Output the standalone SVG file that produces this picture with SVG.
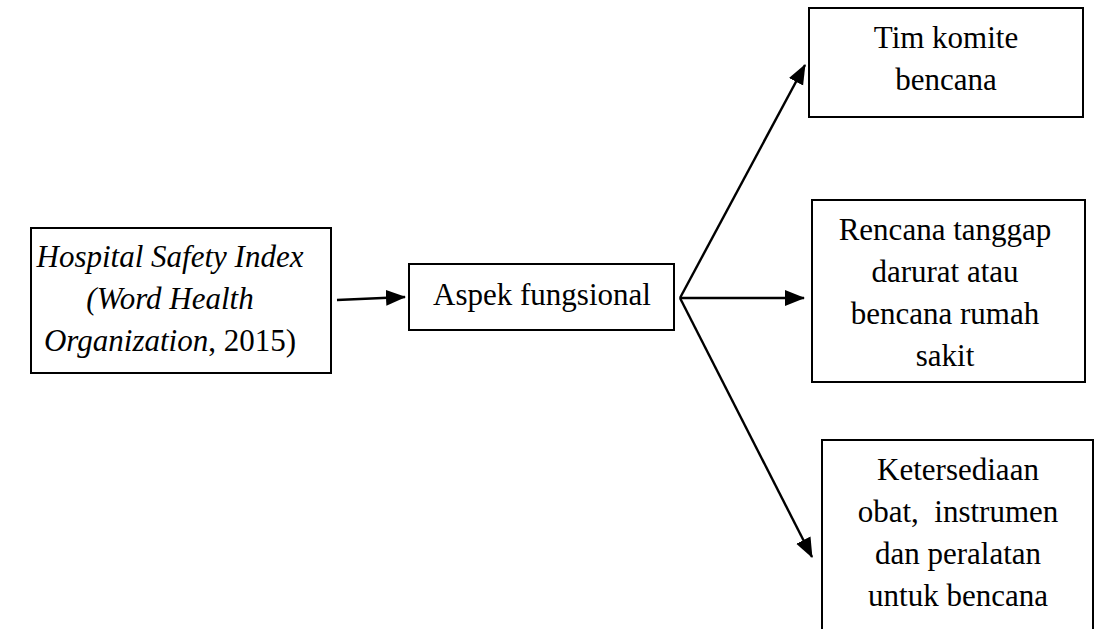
<svg xmlns="http://www.w3.org/2000/svg" width="1094" height="629" viewBox="0 0 1094 629">
<style>
.box{fill:#fff;stroke:#000;stroke-width:2}
.t{font-family:"Liberation Serif","Times New Roman",serif;font-size:31px;fill:#000;text-anchor:middle}
.i{font-style:italic}
.c{stroke:#000;stroke-width:2.4;fill:none;marker-end:url(#ah)}
</style>
<defs>
<marker id="ah" markerUnits="userSpaceOnUse" markerWidth="22" markerHeight="18" refX="19" refY="8" orient="auto">
<path d="M0,0 L20,8 L0,16 Z" fill="#000"/>
</marker>
</defs>
<rect width="1094" height="629" fill="#fff"/>
<g id="connectors">
<line class="c" x1="337" y1="300" x2="405" y2="297"/>
<line class="c" x1="680" y1="298" x2="805" y2="65"/>
<line class="c" x1="680" y1="298" x2="804" y2="298"/>
<line class="c" x1="680" y1="298" x2="812" y2="557"/>
</g>
<g id="hsi">
<rect class="box" x="31" y="228" width="300" height="145"/>
<text class="t" x="170" y="267"><tspan class="i">Hospital Safety Index</tspan></text>
<text class="t" x="170" y="309"><tspan class="i">(Word Health</tspan></text>
<text class="t" x="170" y="351"><tspan class="i">Organization</tspan>, 2015)</text>
</g>
<g id="aspek">
<rect class="box" x="409" y="264" width="265" height="66"/>
<text class="t" x="542" y="305">Aspek fungsional</text>
</g>
<g id="tim">
<rect class="box" x="809" y="8" width="274" height="109"/>
<text class="t" x="946" y="48">Tim komite</text>
<text class="t" x="946" y="90">bencana</text>
</g>
<g id="rencana">
<rect class="box" x="812" y="200" width="273" height="182"/>
<text class="t" x="945" y="240">Rencana tanggap</text>
<text class="t" x="945" y="282">darurat atau</text>
<text class="t" x="945" y="324">bencana rumah</text>
<text class="t" x="945" y="366">sakit</text>
</g>
<g id="ketersediaan">
<path class="box" d="M822,629 L822,440 L1093,440 L1093,629"/>
<text class="t" x="958" y="480">Ketersediaan</text>
<text class="t" x="958" y="522" xml:space="preserve">obat,  instrumen</text>
<text class="t" x="958" y="564">dan peralatan</text>
<text class="t" x="958" y="606">untuk bencana</text>
</g>
</svg>
